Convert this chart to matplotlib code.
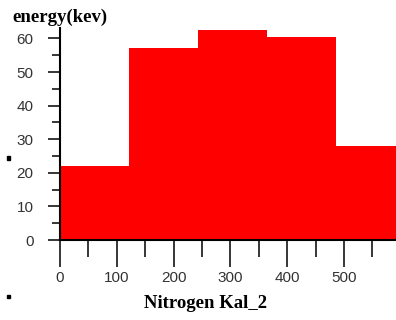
import numpy as np
import matplotlib
matplotlib.use("Agg")
import matplotlib.pyplot as plt
from matplotlib.ticker import MultipleLocator
from matplotlib.patches import Rectangle

# --- datos del histograma ---
bin_edges = [0, 121.5, 243, 364.5, 486, 607.5]
counts = [22, 57, 62.5, 60.5, 28]
x_label = "Nitrogen Kal_2"
y_title = "energy(kev)"

fig = plt.figure(figsize=(3.96, 3.2), dpi=100)
ax = fig.add_axes([60/396, 80/320, 336/396, 212/320])

widths = np.diff(bin_edges)
ax.bar(bin_edges[:-1], counts, width=widths, align="edge", color="#ff0000", linewidth=0)

ax.set_xlim(0, 591.5)
ax.set_ylim(0, 63.1)

for s in ["top", "right"]:
    ax.spines[s].set_visible(False)
for s in ["left", "bottom"]:
    ax.spines[s].set_linewidth(1.5)
    ax.spines[s].set_color("black")

ax.xaxis.set_major_locator(MultipleLocator(100))
ax.xaxis.set_minor_locator(MultipleLocator(50))
ax.yaxis.set_major_locator(MultipleLocator(10))
ax.yaxis.set_minor_locator(MultipleLocator(5))

ax.tick_params(axis="x", which="major", length=19.5, width=1.1, pad=3, labelsize=11, colors="black", labelcolor="#333333")
ax.tick_params(axis="x", which="minor", length=12, width=1.1)
ax.tick_params(axis="y", which="major", length=9, width=1.1, pad=10, labelsize=11, labelcolor="#333333")
ax.tick_params(axis="y", which="minor", length=5.5, width=1.1)

for lab in ax.get_xticklabels() + ax.get_yticklabels():
    lab.set_family(["Liberation Sans", "DejaVu Sans"])

fig.text(12/396, 1 - 17/320, y_title, family="Liberation Serif", weight="bold", fontsize=13.5, va="center", ha="left")
fig.text(206/396, 1 - 303/320, x_label, family="Liberation Serif", weight="bold", fontsize=13.5, va="center", ha="center")

# pequeñas marcas del original
fig.patches.append(Rectangle((7/396, 1 - 160/320), 3/396, 4/320, transform=fig.transFigure, color="black"))
fig.patches.append(Rectangle((7/396, 1 - 298/320), 3/396, 3/320, transform=fig.transFigure, color="black"))

fig.savefig("out.png", dpi=100)
